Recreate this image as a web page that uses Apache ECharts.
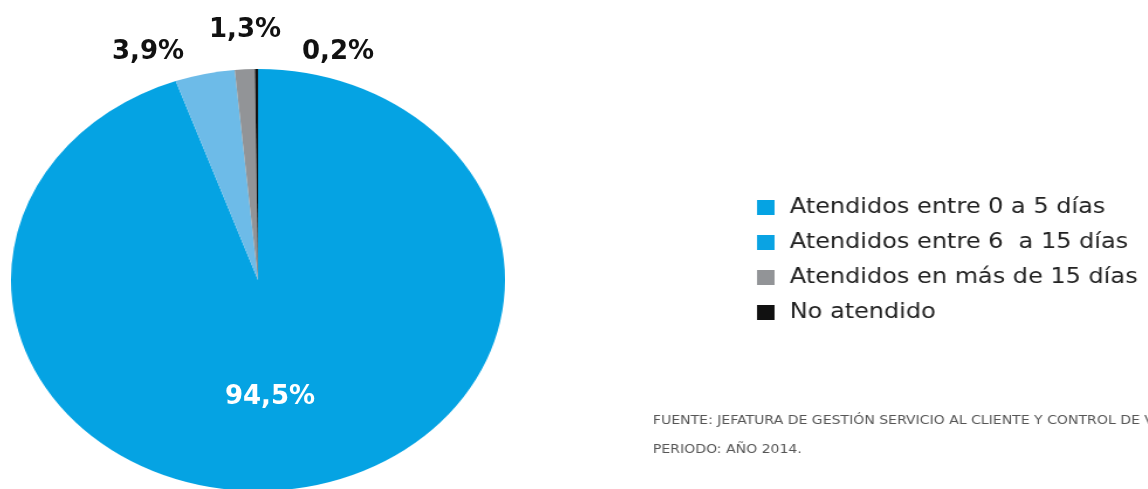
<!DOCTYPE html>
<html>
<head>
<meta charset="utf-8">
<script src="https://cdn.jsdelivr.net/npm/echarts@6/dist/echarts.min.js"></script>
<style>
  html, body { margin: 0; padding: 0; background: #ffffff; overflow: hidden; }
  #wrap { position: relative; width: 1148px; height: 489px; overflow: hidden; }
  /* pie drawn as a circle, then stretched horizontally into an ellipse */
  #pie { position: absolute; left: 47px; top: 69px; width: 422px; height: 422px;
         transform: scaleX(1.1706); transform-origin: 50% 50%; }
  /* legend and source note, with the same horizontal stretch */
  #side { position: absolute; left: 640px; top: 0; width: 508px; height: 489px;
          transform: scaleX(1.17); transform-origin: 0 0; }
  #over { position: absolute; left: 0; top: 0; width: 1148px; height: 489px; }
</style>
</head>
<body>
<div id="wrap">
  <div id="pie"></div>
  <div id="side"></div>
  <div id="over"></div>
</div>
<script>
// Atención de requerimientos por tiempo de respuesta (%)
const categories = [
  'Atendidos entre 0 a 5 días',
  'Atendidos entre 6  a 15 días',
  'Atendidos en más de 15 días',
  'No atendido'
];
const values = [94.5, 3.9, 1.3, 0.2];
const sliceColors = ['#05a3e3', '#6dbbe8', '#929497', '#111111'];
const legendColors = ['#05a3e3', '#0aa3e3', '#929497', '#111111'];
const footnotes = [
  'FUENTE: JEFATURA DE GESTIÓN SERVICIO AL CLIENTE Y CONTROL DE VENTAS',
  'PERIODO: AÑO 2014.'
];

// label anchors (x, y centre) for each slice's percentage
const labelPos = [[270, 397], [148, 52], [245, 30], [338, 52]];
const labelColor = ['#ffffff', '#111111', '#111111', '#111111'];

const fmt = v => v.toFixed(1).replace('.', ',') + '%';
const textFont = '"DejaVu Sans", "Noto Sans", sans-serif';

const pieChart = echarts.init(document.getElementById('pie'), null, { renderer: 'canvas' });
pieChart.setOption({
  animation: false,
  series: [{
    type: 'pie',
    center: ['50%', '50%'],
    radius: ['0%', '100%'],
    startAngle: 90,
    clockwise: true,
    silent: true,
    label: { show: false },
    labelLine: { show: false },
    itemStyle: { borderWidth: 0 },
    data: categories.map((c, i) => ({ name: c, value: values[i], itemStyle: { color: sliceColors[i] } }))
  }]
});

const side = echarts.init(document.getElementById('side'), null, { renderer: 'canvas' });
side.setOption({
  animation: false,
  legend: {
    orient: 'vertical',
    left: 100,
    top: 197,
    padding: 0,
    icon: 'rect',
    itemWidth: 15,
    itemHeight: 15,
    itemGap: 14,
    selectedMode: false,
    textStyle: { fontFamily: textFont, fontSize: 20.5, color: '#222222', padding: [0, 0, 0, 8] },
    data: categories.map((c, i) => ({ name: c, itemStyle: { color: legendColors[i] } }))
  },
  series: [{
    type: 'pie',
    radius: [0, 0],
    silent: true,
    label: { show: false },
    labelLine: { show: false },
    data: categories.map((c, i) => ({ name: c, value: values[i], itemStyle: { color: legendColors[i] } }))
  }],
  graphic: footnotes.map((t, i) => ({
    type: 'text',
    x: 11,
    y: 421 + i * 29,
    style: {
      text: t,
      fill: '#555555',
      font: '12px ' + textFont,
      textAlign: 'left',
      textVerticalAlign: 'middle'
    }
  }))
});

const over = echarts.init(document.getElementById('over'), null, { renderer: 'canvas' });
over.setOption({
  animation: false,
  graphic: values.map((v, i) => ({
    type: 'text',
    x: labelPos[i][0],
    y: labelPos[i][1],
    style: {
      text: fmt(v),
      fill: labelColor[i],
      font: 'bold 26px ' + textFont,
      textAlign: 'center',
      textVerticalAlign: 'middle'
    }
  }))
});
</script>
</body>
</html>
